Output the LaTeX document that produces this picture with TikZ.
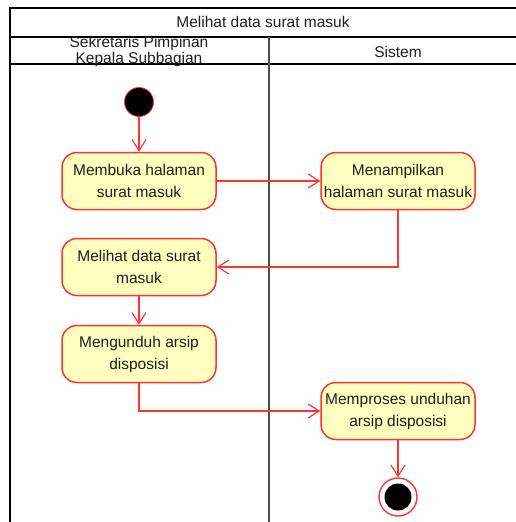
\documentclass[tikz,border=0pt]{standalone}
\usepackage{fontspec}
\setmainfont{Liberation Sans}
\usetikzlibrary{arrows.meta}
\definecolor{actfill}{HTML}{FFFFC0}
\definecolor{actred}{HTML}{FF3333}
\definecolor{lanegray}{HTML}{4D4D4D}
\definecolor{txt}{HTML}{1F1F1F}
\tikzset{
  act/.style={draw=actred, fill=actfill, line width=1.5pt, rounded corners=15pt,
    minimum width=154pt, minimum height=57pt, align=center, inner sep=0pt,
    font=\fontsize{15.5}{22}\selectfont, text=txt},
  flow/.style={draw=actred, line width=1.2pt, -{Straight Barb[length=11pt,width=14pt,line width=1.2pt]}},
  startnode/.style={circle, fill=black, draw=actred, line width=0.8pt, minimum size=29pt, inner sep=0pt},
  endnode/.style={circle, draw=actred, fill=white, line width=1.4pt, minimum size=38pt, inner sep=0pt},
  lane/.style={draw=black, line width=1.3pt},
  hdr/.style={font=\fontsize{15.5}{16}\selectfont, text=txt, align=center, inner sep=0pt}
}
\begin{document}
\begin{tikzpicture}[x=1pt,y=-1pt]
\useasboundingbox (0,0) rectangle (516,522);
% frame
\draw[lane] (10,522) -- (10,8) -- (516,8);
\draw[lane] (10,37) -- (516,37);
\draw[lane] (10,64) -- (516,64);
\draw[draw=lanegray, line width=1.3pt] (269,37) -- (269,522);
\node[hdr] (title) at (263,22) {Melihat data surat masuk};
\node[hdr] (lane1) at (139,51) {Sekretaris Pimpinan\\Kepala Subbagian};
\node[hdr] (lane2) at (398,52) {Sistem};
% nodes
\node[startnode] (start) at (139,102) {};
\node[act] (a1) at (139,181) {Membuka halaman\\surat masuk};
\node[act] (a2) at (398,181) {Menampilkan\\halaman surat masuk};
\node[act] (a3) at (139,267) {Melihat data surat\\masuk};
\node[act] (a4) at (139,354) {Mengunduh arsip\\disposisi};
\node[act] (a5) at (398,411) {Memproses unduhan\\arsip disposisi};
\node[endnode] (end) at (398,497) {};
\node[circle, fill=black, minimum size=27pt, inner sep=0pt] (endin) at (end) {};
% flows
\draw[flow] (start) -- (a1);
\draw[flow] (a1) -- (a2);
\draw[flow] (a2.south) |- (a3.east);
\draw[flow] (a3) -- (a4);
\draw[flow] (a4.south) |- (a5.west);
\draw[flow] (a5) -- (end);
\end{tikzpicture}
\end{document}
